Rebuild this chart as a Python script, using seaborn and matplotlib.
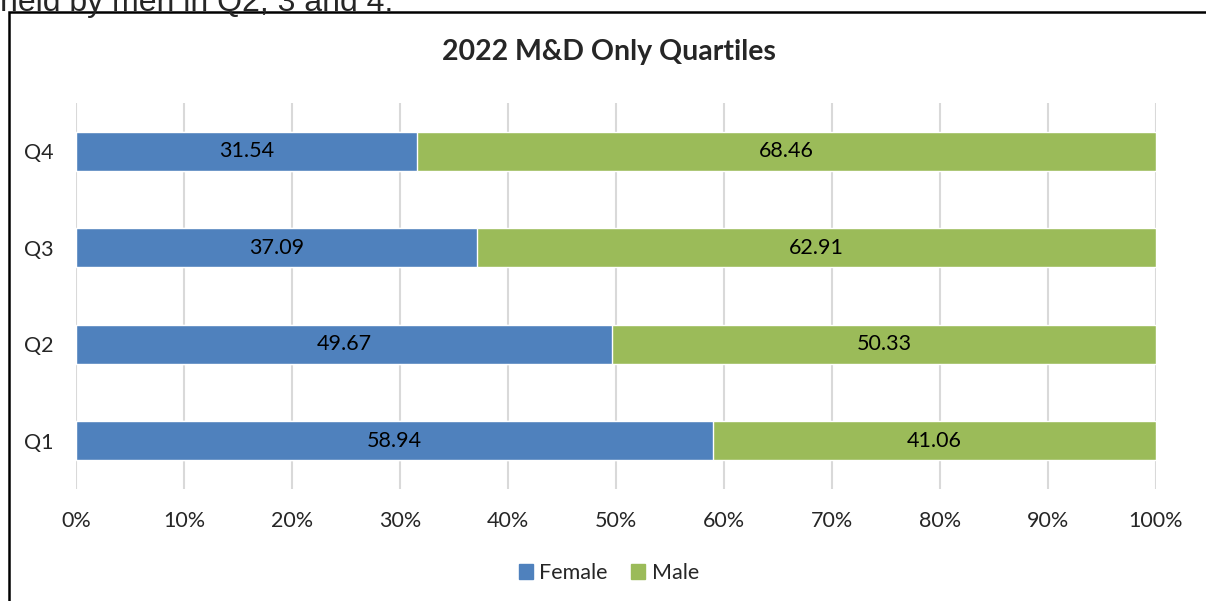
import matplotlib.pyplot as plt
import pandas as pd
import seaborn as sns
from matplotlib.patches import Patch, Rectangle

quartiles = ["Q4", "Q3", "Q2", "Q1"]
female = [31.54, 37.09, 49.67, 58.94]
male = [68.46, 62.91, 50.33, 41.06]
ticks = [0, 10, 20, 30, 40, 50, 60, 70, 80, 90, 100]

BLUE = "#4F81BD"
GREEN = "#9BBB59"

df = pd.DataFrame({"quartile": quartiles, "Female": female, "Male": male})
df["total"] = df["Female"] + df["Male"]

sns.set_theme(style="white")
plt.rcParams["font.family"] = ["Lato", "DejaVu Sans"]

fig = plt.figure(figsize=(12.06, 6.01), dpi=100)
ax = fig.add_axes([76 / 1206, 1 - 489 / 601, 1080 / 1206, 386 / 601])

# stacked: full bar in green, female part drawn over it
sns.barplot(data=df, x="total", y="quartile", order=quartiles, color=GREEN,
            width=0.4, saturation=1, ax=ax, zorder=2)
sns.barplot(data=df, x="Female", y="quartile", order=quartiles, color=BLUE,
            width=0.4, saturation=1, ax=ax, zorder=3)

for i, (f, m) in enumerate(zip(df["Female"], df["Male"])):
    ax.text(f / 2, i, f"{f:.2f}", ha="center", va="center", fontsize=15.5, color="black", zorder=4)
    ax.text(f + m / 2, i, f"{m:.2f}", ha="center", va="center", fontsize=15.5, color="black", zorder=4)

ax.set_xlim(0, 100)
ax.set_ylim(3.5, -0.5)
ax.set_xticks(ticks)
ax.set_xticklabels([f"{t}%" for t in ticks])
ax.xaxis.grid(True, color="#D9D9D9", linewidth=1.5, zorder=0)
ax.set_axisbelow(True)
ax.tick_params(axis="x", length=0, pad=16, labelsize=15.5)
ax.tick_params(axis="y", length=0, pad=16, labelsize=15.5)
ax.set_xlabel("")
ax.set_ylabel("")
sns.despine(ax=ax, left=True, bottom=True)

fig.text(609 / 1206, 1 - 52 / 601, "2022 M&D Only Quartiles", ha="center", va="center",
         fontsize=20.5, fontweight="bold")

handles = [Patch(color=BLUE, label="Female"), Patch(color=GREEN, label="Male")]
fig.legend(handles=handles, loc="center", bbox_to_anchor=(609 / 1206, 1 - 573 / 601), ncol=2,
           frameon=False, fontsize=15.5, handlelength=0.65, handleheight=0.65,
           handletextpad=0.3, columnspacing=1.1)

# frame of the chart object and cut-off text above it
fig.patches.append(Rectangle((9 / 1206, -0.1), 1.2, 1 - 11.5 / 601 + 0.1, transform=fig.transFigure,
                             fill=False, edgecolor="black", linewidth=1.8))
fig.text(0, 1 - 11 / 601, "held by men in Q2, 3 and 4.", ha="left", va="baseline",
         fontsize=23, family=["Liberation Sans", "DejaVu Sans"])

fig.savefig("out.png", dpi=100, facecolor="white")
